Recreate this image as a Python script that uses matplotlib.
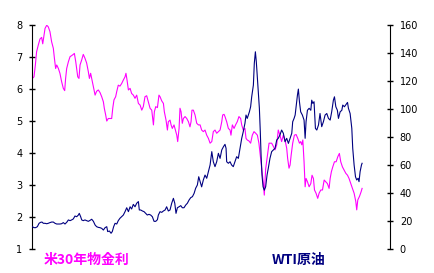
import matplotlib
matplotlib.use("Agg")
import matplotlib.pyplot as plt

plt.rcParams['font.family'] = ['DejaVu Sans']
cjk = ['Noto Sans CJK JP', 'DejaVu Sans']

# 米30年物金利 (%) - left axis
yield_t = [1993.80, 1993.91, 1994.00, 1994.08, 1994.19, 1994.30, 1994.41, 1994.48, 1994.56, 1994.63,
           1994.74, 1994.84, 1994.95, 1995.06, 1995.17, 1995.24, 1995.32, 1995.39, 1995.50, 1995.60,
           1995.71, 1995.82, 1995.91, 1995.97, 1996.04, 1996.15, 1996.26, 1996.36, 1996.47, 1996.54,
           1996.63, 1996.76, 1996.84, 1996.91, 1997.02, 1997.12, 1997.23, 1997.34, 1997.45, 1997.52,
           1997.60, 1997.71, 1997.82,
           1997.89, 1997.99, 1998.10, 1998.21, 1998.32, 1998.43, 1998.49, 1998.58, 1998.65, 1998.75,
           1998.86, 1998.97, 1999.04, 1999.12, 1999.23, 1999.30, 1999.40, 1999.51, 1999.62, 1999.73,
           1999.84, 1999.90, 1999.97, 2000.06, 2000.17, 2000.27, 2000.38, 2000.49, 2000.60, 2000.71,
           2000.82, 2000.93, 2001.03, 2001.14, 2001.25, 2001.36, 2001.47, 2001.58, 2001.69, 2001.75,
           2001.84, 2001.95, 2002.05,
           2002.12, 2002.23, 2002.34, 2002.40, 2002.51, 2002.60, 2002.66, 2002.77, 2002.84, 2002.92,
           2003.03, 2003.12, 2003.21, 2003.27, 2003.36, 2003.42, 2003.49, 2003.57, 2003.64, 2003.75,
           2003.86, 2003.97, 2004.07, 2004.14, 2004.20, 2004.29, 2004.40, 2004.51, 2004.62, 2004.73,
           2004.83, 2004.94, 2005.05, 2005.16, 2005.27, 2005.38, 2005.49, 2005.59, 2005.70, 2005.81,
           2005.92, 2006.03, 2006.14, 2006.20, 2006.29,
           2006.35, 2006.46, 2006.57, 2006.68, 2006.74, 2006.83, 2006.94, 2007.04, 2007.15, 2007.26,
           2007.37, 2007.44, 2007.54, 2007.65, 2007.72, 2007.80, 2007.91, 2008.02, 2008.13, 2008.24,
           2008.35, 2008.46, 2008.56, 2008.70, 2008.85, 2008.91, 2009.00, 2009.11, 2009.22, 2009.39,
           2009.50, 2009.61, 2009.72, 2009.82, 2009.93, 2010.04, 2010.15, 2010.26, 2010.37, 2010.43,
           2010.52,
           2010.59, 2010.66, 2010.76, 2010.87, 2010.98, 2011.09, 2011.20, 2011.28, 2011.35, 2011.42,
           2011.50, 2011.57, 2011.63, 2011.72, 2011.83, 2011.94, 2012.02, 2012.11, 2012.18, 2012.28,
           2012.39, 2012.48, 2012.59, 2012.70, 2012.81, 2012.91, 2013.02, 2013.13, 2013.20, 2013.28,
           2013.37, 2013.48, 2013.59, 2013.70, 2013.80, 2013.89, 2014.00, 2014.11, 2014.22, 2014.33,
           2014.43, 2014.54, 2014.65, 2014.76, 2014.87, 2014.93, 2015.00, 2015.11, 2015.22, 2015.28]
yield_v = [6.32, 6.37, 6.74, 7.15, 7.36, 7.55, 7.60, 7.40, 7.66, 7.88,
           7.98, 7.93, 7.78, 7.46, 7.26, 6.95, 6.63, 6.74, 6.63, 6.48,
           6.22, 6.01, 5.94, 6.32, 6.63, 6.84, 7.00, 7.03, 7.07, 7.10,
           6.84, 6.37, 6.32, 6.74, 6.90, 7.07, 6.95, 6.80, 6.53, 6.32,
           6.48, 6.22, 5.96,
           5.80, 5.92, 5.96, 5.88, 5.75, 5.59, 5.39, 5.18, 4.99, 5.07,
           5.07, 5.07, 5.39, 5.65, 5.75, 5.91, 6.11, 6.08, 6.16, 6.27,
           6.37, 6.48, 6.27, 5.96, 6.01, 5.85, 5.80, 5.70, 5.80, 5.54,
           5.49, 5.33, 5.44, 5.75, 5.78, 5.59, 5.39, 5.33, 4.87, 5.28,
           5.44, 5.41, 5.80,
           5.75, 5.62, 5.54, 5.28, 5.02, 4.71, 4.97, 5.02, 4.87, 4.76,
           4.87, 4.71, 4.55, 4.35, 4.76, 5.39, 5.28, 4.92, 5.07, 5.13,
           5.07, 4.97, 4.81, 4.97, 5.33, 5.33, 5.18, 4.92, 4.87, 4.87,
           4.71, 4.66, 4.71, 4.55, 4.45, 4.30, 4.35, 4.66, 4.71, 4.61,
           4.66, 4.71, 4.97, 5.18, 5.20,
           5.13, 4.97, 4.76, 4.71, 4.55, 4.87, 4.76, 4.87, 4.97, 5.13,
           5.07, 4.87, 4.71, 4.76, 4.45, 4.40, 4.37, 4.30, 4.55, 4.66,
           4.61, 4.55, 4.30, 3.70, 3.05, 2.68, 3.50, 3.90, 4.30, 4.30,
           4.20, 4.09, 4.25, 4.71, 4.55, 4.35, 4.55, 4.40, 4.14, 3.83,
           3.52,
           3.62, 3.93, 4.30, 4.55, 4.57, 4.45, 4.30, 4.35, 4.25, 4.40,
           3.72, 2.94, 3.20, 3.10, 2.94, 3.04, 3.30, 3.20, 2.84, 2.74,
           2.58, 2.74, 2.84, 2.84, 3.15, 3.10, 3.04, 2.89, 3.20, 3.41,
           3.56, 3.72, 3.72, 3.88, 3.98, 3.72, 3.56, 3.46, 3.36, 3.30,
           3.20, 3.04, 2.89, 2.74, 2.48, 2.22, 2.53, 2.64, 2.79, 2.89]

# WTI原油 (USD/bbl) - right axis
wti_t = [1993.80, 1993.91, 1994.02, 1994.13, 1994.24, 1994.34, 1994.43, 1994.52, 1994.63, 1994.74,
         1994.84, 1994.95, 1995.06, 1995.17, 1995.28, 1995.39, 1995.50, 1995.60, 1995.71, 1995.82,
         1995.93, 1996.04, 1996.15, 1996.26, 1996.36, 1996.47, 1996.58, 1996.69, 1996.80, 1996.86,
         1996.95, 1997.02, 1997.12, 1997.23, 1997.34, 1997.45, 1997.56, 1997.67, 1997.78,
         1997.89, 1997.99, 1998.10, 1998.21, 1998.32, 1998.43, 1998.54, 1998.65, 1998.71, 1998.82,
         1998.93, 1999.01, 1999.10, 1999.19, 1999.30, 1999.40, 1999.51, 1999.62, 1999.73, 1999.84,
         1999.95, 2000.06, 2000.17, 2000.27, 2000.38, 2000.49, 2000.60, 2000.71, 2000.77, 2000.86,
         2000.97, 2001.08, 2001.19, 2001.29, 2001.40, 2001.51, 2001.62, 2001.73, 2001.84, 2001.95,
         2002.01,
         2002.12, 2002.23, 2002.34, 2002.45, 2002.55, 2002.66, 2002.77, 2002.88, 2002.99, 2003.08,
         2003.16, 2003.25, 2003.36, 2003.47, 2003.57, 2003.68, 2003.79, 2003.90, 2004.01, 2004.12,
         2004.23, 2004.34, 2004.44, 2004.55, 2004.64, 2004.73, 2004.83, 2004.94, 2005.05, 2005.16,
         2005.27, 2005.38, 2005.49, 2005.59, 2005.70, 2005.81, 2005.92, 2006.03, 2006.14, 2006.25,
         2006.35, 2006.42, 2006.46, 2006.57, 2006.68, 2006.78, 2006.89, 2007.00, 2007.11, 2007.22,
         2007.33, 2007.44, 2007.54, 2007.65, 2007.72, 2007.80, 2007.87, 2007.94, 2008.02, 2008.09,
         2008.20, 2008.26, 2008.33, 2008.39, 2008.46, 2008.52, 2008.59, 2008.65, 2008.70, 2008.76,
         2008.83, 2008.91, 2009.00, 2009.09, 2009.17, 2009.28, 2009.39, 2009.50, 2009.61, 2009.72,
         2009.82, 2009.93, 2010.04, 2010.15, 2010.26, 2010.37, 2010.48,
         2010.59, 2010.70, 2010.76, 2010.85, 2010.92, 2010.98, 2011.07, 2011.13, 2011.20, 2011.28,
         2011.39, 2011.50, 2011.57, 2011.63, 2011.72, 2011.83, 2011.94, 2012.00, 2012.07, 2012.15,
         2012.24, 2012.33, 2012.44, 2012.54, 2012.65, 2012.76, 2012.87, 2012.98, 2013.09, 2013.20,
         2013.30, 2013.41, 2013.48, 2013.57, 2013.67, 2013.74, 2013.85, 2013.96, 2014.02, 2014.13,
         2014.24, 2014.33, 2014.39, 2014.50, 2014.61, 2014.67, 2014.76, 2014.85, 2014.93, 2015.02,
         2015.08, 2015.15, 2015.24, 2015.28]
wti_v = [15.9, 15.2, 15.2, 15.9, 18.3, 19.0, 19.2, 18.3, 18.3, 18.0,
         18.3, 18.8, 19.2, 19.2, 18.3, 17.8, 17.8, 17.8, 18.0, 18.8,
         17.8, 19.0, 20.7, 20.2, 20.7, 21.4, 23.5, 23.0, 24.2, 25.4,
         23.0, 20.7, 20.2, 20.7, 20.2, 19.7, 20.4, 21.2, 19.7,
         17.1, 15.9, 15.4, 15.2, 14.7, 13.5, 15.2, 15.9, 12.4, 12.8,
         11.2, 12.4, 15.9, 18.3, 17.8, 20.2, 21.9, 23.0, 24.2, 26.6,
         29.4, 26.6, 30.1, 28.5, 31.8, 30.1, 32.6, 33.8, 27.8, 27.8,
         27.1, 26.6, 25.4, 24.2, 24.7, 24.2, 23.0, 19.7, 19.7, 20.9,
         24.2,
         26.6, 26.1, 27.1, 27.8, 30.1, 27.1, 27.8, 32.6, 36.1, 32.6,
         25.4, 29.4, 30.1, 30.9, 29.4, 29.4, 31.3, 32.6, 34.9, 36.6,
         37.3, 39.7, 43.3, 45.6, 51.5, 48.0, 44.3, 49.2, 52.7, 50.4,
         55.1, 59.9, 69.4, 62.2, 58.7, 62.2, 68.2, 64.6, 70.6, 72.9,
         74.6, 71.8, 62.2, 61.1, 62.2, 59.9, 58.7, 62.2, 65.8, 64.6,
         71.8, 78.9, 83.6, 89.6, 95.5, 93.1, 95.5, 97.8, 101.4, 108.5,
         116.9, 132.4, 140.6, 133.6, 121.7, 110.9, 100.3, 83.6, 67.0, 52.7,
         44.4, 41.9, 44.4, 52.7, 57.5, 64.6, 69.4, 70.6, 71.8, 77.7,
         78.9, 81.3, 84.8, 82.5, 76.5, 78.9, 75.3,
         78.9, 82.5, 90.7, 93.1, 95.5, 101.4, 109.8, 114.0, 105.0, 97.8,
         95.5, 91.9, 78.9, 90.7, 98.9, 100.3, 98.9, 106.1, 103.8, 105.0,
         86.0, 84.8, 88.4, 96.6, 87.2, 90.7, 95.5, 96.6, 93.1, 91.9,
         97.8, 106.1, 108.5, 101.4, 98.9, 93.1, 97.8, 98.9, 102.6, 101.4,
         103.1, 104.5, 100.3, 96.6, 86.0, 71.8, 59.9, 51.5, 49.2, 50.4,
         48.0, 55.1, 59.9, 61.1]

left_ticks = [1, 2, 3, 4, 5, 6, 7, 8]
right_ticks = [0, 20, 40, 60, 80, 100, 120, 140, 160]

fig = plt.figure(figsize=(4.34, 2.73), dpi=100)
ax = fig.add_axes([0.0737, 0.088, 0.825, 0.822])
ax2 = ax.twinx()

ax.plot(yield_t, yield_v, color='#FF00FF', lw=0.8)
ax2.plot(wti_t, wti_v, color='#000080', lw=0.8)

ax.set_xlim(1993.78, 2017.1)
ax.set_ylim(1, 8)
ax2.set_ylim(0, 160)
ax.set_yticks(left_ticks)
ax2.set_yticks(right_ticks)
ax.set_xticks([])

for a in (ax, ax2):
    a.spines['top'].set_visible(False)
    a.spines['bottom'].set_visible(False)
    a.tick_params(axis='y', direction='inout', length=4, width=1, labelsize=7, pad=5)
ax.spines['right'].set_visible(False)
ax2.spines['left'].set_visible(False)

fig.text(0.101, 0.048, '米30年物金利', color='#FF00FF', fontsize=10, fontweight='bold',
         va='center', family=cjk)
fig.text(0.626, 0.048, 'WTI原油', color='#000080', fontsize=10, fontweight='bold',
         va='center', family=cjk)

fig.savefig('out.png', dpi=100)
